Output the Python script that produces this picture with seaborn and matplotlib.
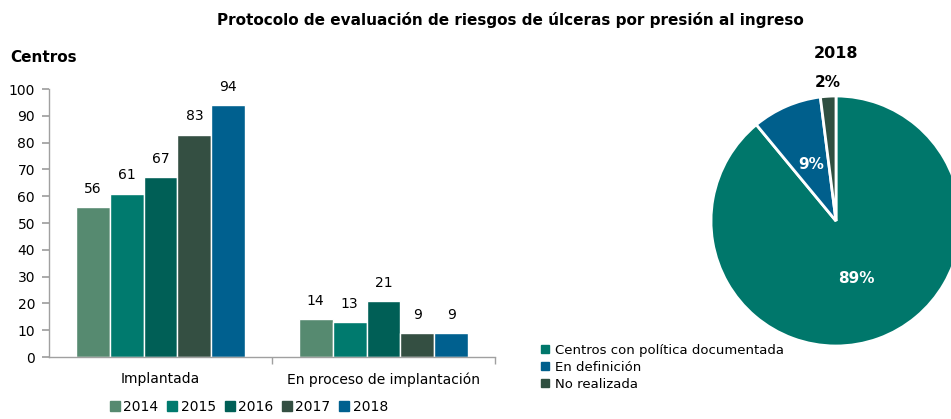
import numpy as np
import pandas as pd
import seaborn as sns
import matplotlib
matplotlib.use("Agg")
import matplotlib.pyplot as plt
from matplotlib.lines import Line2D

categories = ["Implantada", "En proceso de implantación"]
years = ["2014", "2015", "2016", "2017", "2018"]
implantada = [56, 61, 67, 83, 94]
en_proceso = [14, 13, 21, 9, 9]
year_colors = ["#568A70", "#007A6E", "#005F56", "#344F42", "#00608F"]

pie_labels = ["Centros con política documentada", "En definición", "No realizada"]
pie_values = [89, 9, 2]
pie_colors = ["#00776B", "#005F8C", "#2F4F40"]

sns.set_theme(style="white")
plt.rcParams["font.family"] = ["DejaVu Sans"]
plt.rcParams["text.color"] = "black"

W, H = 951, 419
fig = plt.figure(figsize=(W / 100, H / 100), dpi=100)

df = pd.DataFrame({
    "categoria": np.repeat(categories, len(years)),
    "año": years * len(categories),
    "centros": implantada + en_proceso,
})

# bar chart
ax = fig.add_axes([49 / W, (H - 357) / H, (495 - 49) / W, (357 - 89) / H])
sns.barplot(data=df, x="categoria", y="centros", hue="año", palette=year_colors,
            saturation=1, width=0.76, edgecolor="white", linewidth=1, ax=ax, legend=False)
ax.set_ylim(0, 100)
ax.set_xlim(-0.5, 1.5)
ax.set_yticks(range(0, 101, 10))
ax.set_xlabel("")
ax.set_ylabel("")
ax.tick_params(axis="y", labelsize=10, length=5, color="#a0a0a0", left=True, pad=5,
               labelcolor="black")
ax.tick_params(axis="x", labelsize=10, length=0, pad=11, labelcolor="black")
ax.set_xticks([0.5, 1.5], minor=True)
ax.tick_params(axis="x", which="minor", length=5, color="#a0a0a0", bottom=True)
for s in ["top", "right"]:
    ax.spines[s].set_visible(False)
for s in ["left", "bottom"]:
    ax.spines[s].set_color("#a0a0a0")
    ax.spines[s].set_linewidth(1)
for cont in ax.containers:
    ax.bar_label(cont, fmt="%d", padding=8, fontsize=10, color="black")

handles = [Line2D([], [], marker="s", linestyle="", color=c, markersize=7) for c in year_colors]
fig.legend(handles, years, loc="center", bbox_to_anchor=(248 / W, (H - 407) / H), ncol=5,
           frameon=False, fontsize=10, handletextpad=0.1, columnspacing=0.5, handlelength=1)

fig.text(10 / W, (H - 58) / H, "Centros", fontsize=11, fontweight="bold", va="center")
fig.text(510 / W, (H - 20) / H, "Protocolo de evaluación de riesgos de úlceras por presión al ingreso",
         fontsize=11, fontweight="bold", ha="center", va="center")

# pie chart
r = 125
pax = fig.add_axes([(836 - r) / W, (H - 221 - r) / H, 2 * r / W, 2 * r / H])
wedges, _ = pax.pie(pie_values, colors=pie_colors, startangle=90, counterclock=False,
                    wedgeprops=dict(edgecolor="white", linewidth=2))
pax.set_xlim(-1, 1)
pax.set_ylim(-1, 1)
pax.set_aspect("equal")
for w, v in zip(wedges, pie_values):
    w.set_clip_on(False)
    ang = np.deg2rad((w.theta1 + w.theta2) / 2)
    if v >= 5:
        d, col = 0.49, "white"
    else:
        d, col = 1.11, "black"
    pax.text(d * np.cos(ang), d * np.sin(ang), f"{v}%", ha="center", va="center",
             fontsize=11, fontweight="bold", color=col)
fig.text(836 / W, (H - 53) / H, "2018", fontsize=11.5, fontweight="bold", ha="center", va="center")

ph = [Line2D([], [], marker="s", linestyle="", color=c, markersize=6) for c in pie_colors]
fig.legend(ph, pie_labels, loc="upper left", bbox_to_anchor=(540 / W, (H - 344) / H),
           frameon=False, fontsize=9.5, handletextpad=0.3, labelspacing=0.3,
           handlelength=0.8, borderaxespad=0, borderpad=0)

fig.savefig("out.png", dpi=100)
